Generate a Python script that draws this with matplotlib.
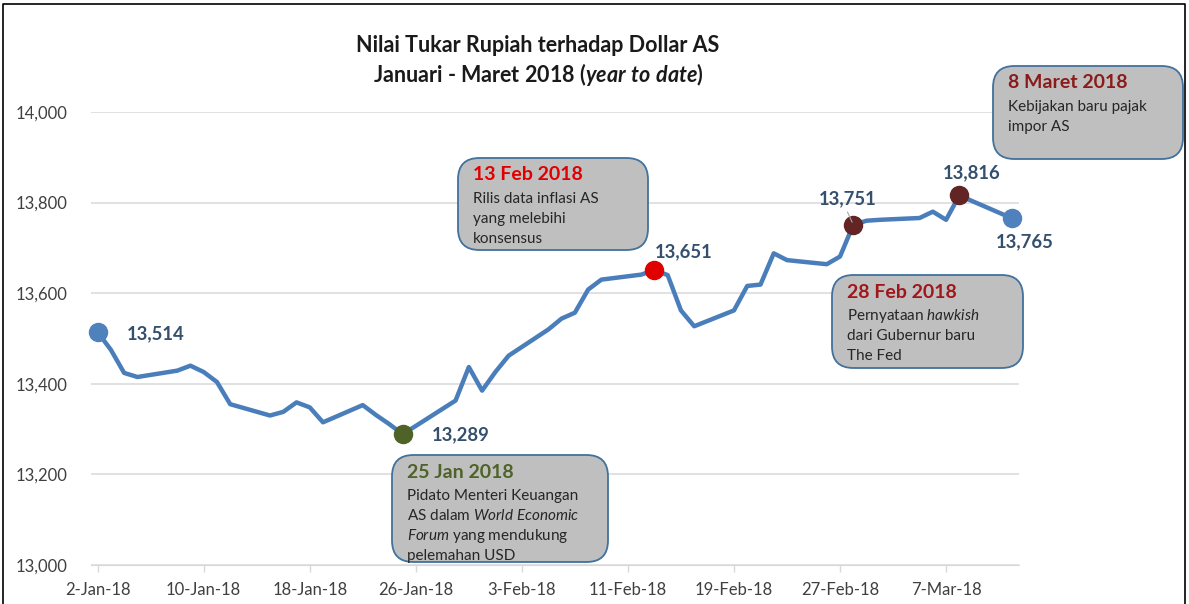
import matplotlib
matplotlib.use('Agg')
import matplotlib.pyplot as plt
import matplotlib.ticker as mticker
from matplotlib.patches import FancyBboxPatch
from matplotlib.lines import Line2D
import pandas as pd

plt.rcParams['font.family'] = ['Lato', 'DejaVu Sans']
plt.rcParams['mathtext.fontset'] = 'custom'
plt.rcParams['mathtext.rm'] = 'Lato'
plt.rcParams['mathtext.it'] = 'Lato:italic'
plt.rcParams['mathtext.bf'] = 'Lato:bold'
plt.rcParams['mathtext.bfit'] = 'Lato:bold:italic'

# kurs harian rupiah per dollar AS (dibaca dari grafik)
dates = ['2018-01-02', '2018-01-03', '2018-01-04', '2018-01-05', '2018-01-08',
         '2018-01-09', '2018-01-10', '2018-01-11', '2018-01-12', '2018-01-15',
         '2018-01-16', '2018-01-17', '2018-01-18', '2018-01-19', '2018-01-22',
         '2018-01-23', '2018-01-24', '2018-01-25', '2018-01-26', '2018-01-29',
         '2018-01-30', '2018-01-31', '2018-02-01', '2018-02-02', '2018-02-05',
         '2018-02-06', '2018-02-07', '2018-02-08', '2018-02-09', '2018-02-12',
         '2018-02-13', '2018-02-14', '2018-02-15', '2018-02-16', '2018-02-19',
         '2018-02-20', '2018-02-21', '2018-02-22', '2018-02-23', '2018-02-26',
         '2018-02-27', '2018-02-28', '2018-03-01', '2018-03-02', '2018-03-05',
         '2018-03-06', '2018-03-07', '2018-03-08', '2018-03-09', '2018-03-12']
kurs = [13514, 13475, 13424, 13415, 13429,
        13440, 13426, 13404, 13355, 13330,
        13338, 13359, 13348, 13315, 13353,
        13331, 13311, 13289, 13307, 13363,
        13437, 13385, 13426, 13462, 13520,
        13544, 13557, 13608, 13630, 13641,
        13651, 13640, 13562, 13527, 13562,
        13616, 13619, 13688, 13673, 13664,
        13681, 13751, 13760, 13762, 13766,
        13780, 13762, 13816, 13803, 13765]

# titik yang diberi label
hl_dates = ['2018-01-02', '2018-01-25', '2018-02-13', '2018-02-28', '2018-03-08', '2018-03-12']
hl_colors = ['#4F81BD', '#4F6228', '#E00000', '#632523', '#632523', '#4F81BD']
hl_offsets = [(21, -1, 'left'), (21, -0.5, 'left'), (0.5, 13, 'left'),
              (-4, 19, 'center'), (9, 16, 'center'), (9, -16.5, 'center')]

# kotak keterangan: judul, warna judul, isi
notes_title = ['13 Feb 2018', '25 Jan 2018', '28 Feb 2018', '8 Maret 2018']
notes_color = ['#E00000', '#4F6228', '#A0161B', '#8B1A1A']
notes_body = [['Rilis data inflasi AS', 'yang melebihi', 'konsensus'],
              ['Pidato Menteri Keuangan', r'AS dalam $\mathit{World\ Economic}$',
               r'$\mathit{Forum}$ yang mendukung', 'pelemahan USD'],
              [r'Pernyataan $\mathit{hawkish}$', 'dari Gubernur baru', 'The Fed'],
              ['Kebijakan baru pajak', 'impor AS']]
notes_box = [(458, 158, 648, 250), (392, 455, 608, 562),
             (832, 275, 1023, 368), (993, 66, 1183, 159)]

x_ticks = pd.date_range('2018-01-02', periods=9, freq='8D')

W, H = 1189, 604
fig = plt.figure(figsize=(W / 100, H / 100), dpi=100)
ax = fig.add_axes([91 / W, 1 - 565 / H, (1019 - 91) / W, (565 - 112) / H])

dt = pd.to_datetime(dates)
ax.plot(dt, kurs, color='#4A7EBB', lw=3.2, solid_joinstyle='round', zorder=3)

for d, c, (ox, oy, ha) in zip(hl_dates, hl_colors, hl_offsets):
    i = dates.index(d)
    ax.plot(dt[i], kurs[i], 'o', color=c, ms=13, zorder=4, clip_on=False)
    ax.annotate(f'{kurs[i]:,}', (dt[i], kurs[i]), xytext=(ox, oy),
                textcoords='offset points', ha=ha, va='center',
                fontsize=13.3, fontweight='bold', color='#34506E', zorder=5)

# garis penunjuk kecil pada label 28 Feb
i28 = dates.index('2018-02-28')
ax.annotate('', (dt[i28], kurs[i28]), xytext=(-5, 11), textcoords='offset points',
            arrowprops=dict(arrowstyle='-', color='#A6A6A6', lw=0.8), zorder=4)

ax.set_ylim(13000, 14000)
ax.set_yticks(range(13000, 14001, 200))
ax.yaxis.set_major_formatter(mticker.FuncFormatter(lambda v, p: f'{v:,.0f}'))
ax.set_xlim(dt[0] - pd.Timedelta(hours=12), dt[-1] + pd.Timedelta(hours=12))
ax.set_xticks(x_ticks)
ax.set_xticklabels([f"{d.day}-{d.strftime('%b-%y')}" for d in x_ticks])

ax.grid(axis='y', color='#D9D9D9', lw=1.1)
ax.set_axisbelow(True)
for s in ['top', 'right', 'left']:
    ax.spines[s].set_visible(False)
ax.spines['bottom'].set_color('#D9D9D9')
ax.tick_params(axis='x', color='#D9D9D9', length=5, width=1, pad=7,
               labelsize=12, labelcolor='#404040')
ax.tick_params(axis='y', length=0, pad=17, labelsize=12, labelcolor='#404040')

# judul
fig.text(538 / W, 1 - 46 / H, 'Nilai Tukar Rupiah terhadap Dollar AS',
         ha='center', va='center', fontsize=15.5, fontweight='bold', color='#1A1A1A')
fig.text(538 / W, 1 - 74 / H, r'Januari - Maret 2018 ($\mathbfit{year\ to\ date}$)',
         ha='center', va='center', fontsize=15.5, fontweight='bold', color='#1A1A1A')

# kotak keterangan
for t, c, body, (x0, y0, x1, y1) in zip(notes_title, notes_color, notes_body, notes_box):
    box = FancyBboxPatch((x0 / W, 1 - y1 / H), (x1 - x0) / W, (y1 - y0) / H,
                         boxstyle='round,pad=0,rounding_size=0.018',
                         mutation_aspect=W / H, transform=fig.transFigure,
                         facecolor='#BFBFBF', edgecolor='#41719C', lw=1.3)
    fig.add_artist(box)
    fig.text((x0 + 15) / W, 1 - (y0 + 17) / H, t, ha='left', va='center',
             fontsize=14, fontweight='bold', color=c)
    for k, line in enumerate(body):
        fig.text((x0 + 15) / W, 1 - (y0 + 41 + 20 * k) / H, line, ha='left',
                 va='center', fontsize=11, color='#262626')

# bingkai luar
fig.add_artist(Line2D([3 / W, 3 / W, 1185 / W, 1185 / W], [0, 1 - 4 / H, 1 - 4 / H, 0],
                      transform=fig.transFigure, color='black', lw=1.2))

fig.savefig('out.png', dpi=100)
